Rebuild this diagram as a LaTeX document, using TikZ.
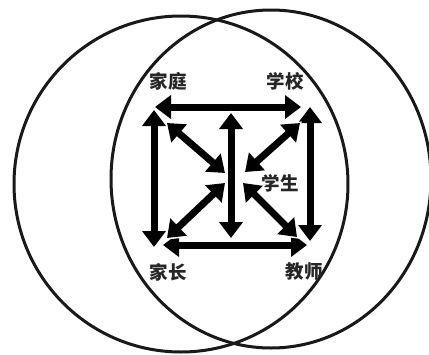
\documentclass[tikz,border=0pt]{standalone}
\usepackage{fontspec}
\usetikzlibrary{arrows.meta, positioning}
\newfontfamily\cjk{Noto Sans CJK SC}
\newcommand{\lab}{\cjk\bfseries\fontsize{18.5}{20}\selectfont}

\begin{document}
\begin{tikzpicture}[
    x=1pt, y=-1pt,
    ring/.style={draw=black!90, line width=3pt},
    link/.style={line width=7pt, draw=black,
        {Triangle[length=16pt, width=23pt]}-{Triangle[length=16pt, width=23pt]},
        preaction={draw=white, line width=10pt, shorten <=-2.5pt, shorten >=-2.5pt,
            {Triangle[length=20pt, width=29pt]}-{Triangle[length=20pt, width=29pt]}}},
    word/.style={text=black!85, inner sep=0pt, font=\lab}
]
\useasboundingbox (0,0) rectangle (429,354);
\clip (0,0) rectangle (429,354);

% two overlapping circles
\draw[ring] (181,184) ellipse [x radius=167pt, y radius=168pt];
\draw[ring] (271,179) ellipse [x radius=160pt, y radius=169pt];

\node[word] (jt) at (168,81)  {家庭};
\node[word] (xx) at (285,81)  {学校};
\node[word] (xs) at (280,183) {学生};
\node[word] (jz) at (168,272) {家长};
\node[word] (js) at (304,272) {教师};

% arrow ends
\coordinate (t1) at (155,107);  \coordinate (t2) at (301,107);
\coordinate (b1) at (163,245);  \coordinate (b2) at (307,245);
\coordinate (l1) at (154,110);  \coordinate (l2) at (154,247);
\coordinate (r1) at (310,107);  \coordinate (r2) at (310,241);
\coordinate (m1) at (231,113);  \coordinate (m2) at (231,238);
\coordinate (d1) at (167,123);  \coordinate (e1) at (225,173);
\coordinate (d2) at (300,123);  \coordinate (e2) at (245,172);
\coordinate (d3) at (167,238);  \coordinate (e3) at (225,183);
\coordinate (d4) at (297,237);  \coordinate (e4) at (243,183);

\draw[link] (l1) -- (l2);
\draw[link] (r1) -- (r2);
\draw[link] (t1) -- (t2);
\draw[link] (b1) -- (b2);
\draw[link] (m1) -- (m2);
\draw[link] (d1) -- (e1);
\draw[link] (d2) -- (e2);
\draw[link] (d3) -- (e3);
\draw[link] (d4) -- (e4);

\end{tikzpicture}
\end{document}
